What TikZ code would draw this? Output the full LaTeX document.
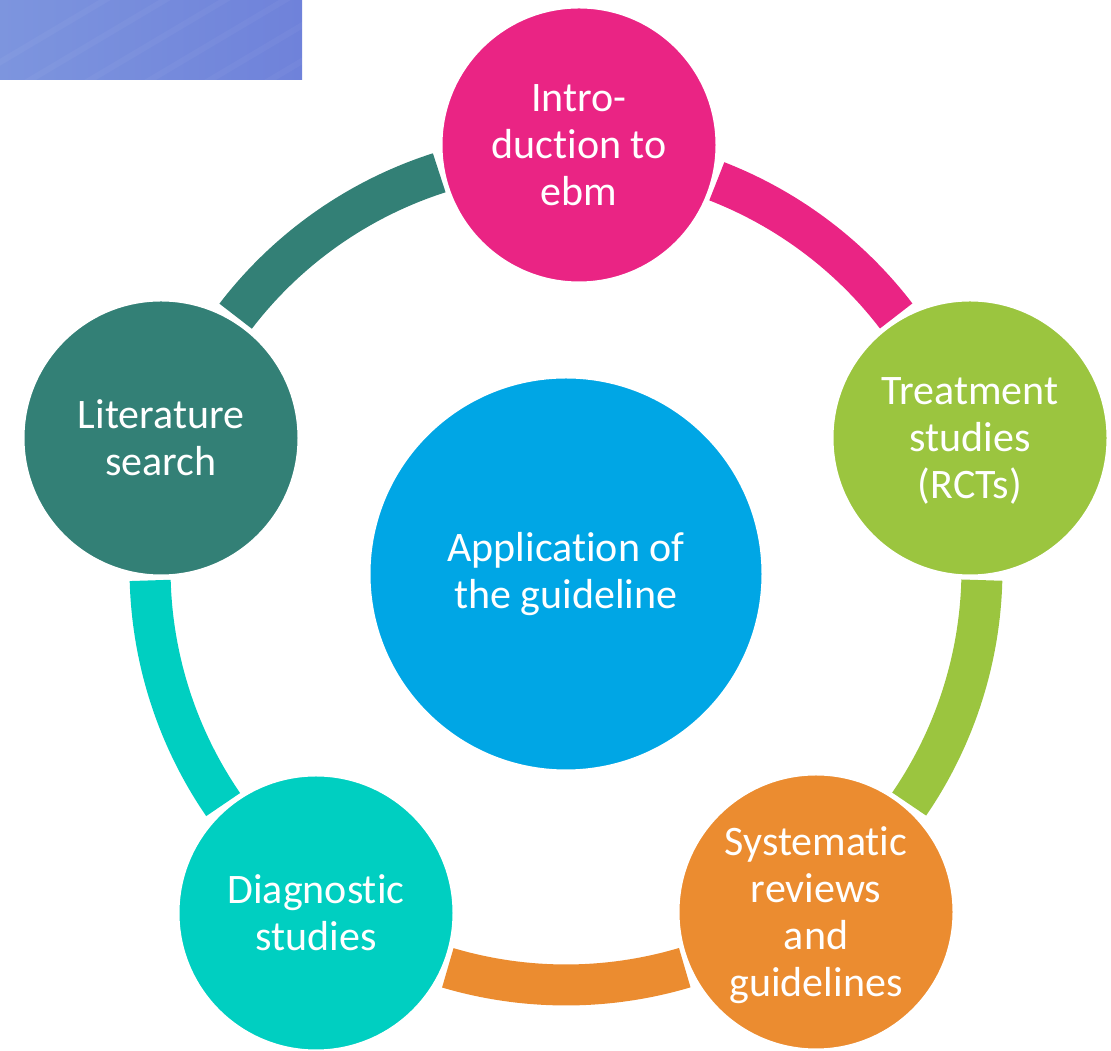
\documentclass[tikz,border=0pt]{standalone}
\usepackage{fontspec}
\setmainfont{Carlito}[RawFeature={-liga;-dlig;-clig}]
\usetikzlibrary{calc}
\definecolor{introc}{HTML}{EA2484}
\definecolor{treatc}{HTML}{9BC53F}
\definecolor{systc}{HTML}{EB8C30}
\definecolor{diagc}{HTML}{00CFC1}
\definecolor{litc}{HTML}{338076}
\definecolor{hubc}{HTML}{00A6E5}
\definecolor{bannerl}{HTML}{7D95DE}
\definecolor{bannerr}{HTML}{6F82DA}
% set a centred block of lines a little lower without changing its size
\newcommand{\droplines}[2]{\raisebox{-#1}[\height][\depth]{\begin{tabular}{@{}c@{}}#2\end{tabular}}}
\begin{document}
\begin{tikzpicture}[x=1pt,y=1pt,
  stage/.style={circle, minimum size=276pt, inner sep=0pt, draw=white, line width=3pt,
    text=white, align=center, font=\fontsize{42}{47}\selectfont},
  core/.style={stage, minimum size=394pt},
  band/.style={line width=41pt, line cap=butt}]
\useasboundingbox (0,0) rectangle (1111,1051);

% banner in the upper left corner
\shade[left color=bannerl, right color=bannerr] (0,971) rectangle (302,1051);
\begin{scope}
  \clip (0,971) rectangle (302,1051);
  \foreach \s in {-40,20,80,140,200,260}
    \draw[white, opacity=0.04, line width=6pt] (\s,965) -- (\s+160,1060);
\end{scope}

% ring centre
\coordinate (hub) at (566,482);

% stages
\node[core, fill=hubc] (guide) at (566,477) {Application of\\the guideline};
\path (579,906) coordinate (pintro)
      (970,613) coordinate (ptreat)
      (816,139) coordinate (psyst)
      (316,138) coordinate (pdiag)
      (161,613) coordinate (plit);

% ring segments, cut radially just clear of each circle
\foreach \a/\b/\c in {pintro/ptreat/introc, ptreat/psyst/treatc, psyst/pdiag/systc,
                      pdiag/plit/diagc, plit/pintro/litc}{
  \draw[band, \c] let \p1=($(\a)-(hub)$), \p2=($(\b)-(hub)$),
      \n1={atan2(\y1,\x1)-19.5}, \n3={atan2(\y2,\x2)+19.5},
      \n2={ifthenelse(\n3>\n1,\n3-360,\n3)} in
      ($(hub)+(\n1:416pt)$) arc[start angle=\n1, end angle=\n2, radius=416pt];
}

\node[stage, fill=introc] (intro) at (pintro) {Intro-\\duction to\\ebm};
\node[stage, fill=treatc] (treat) at (ptreat) {\droplines{4pt}{Treatment\\studies\\(RCTs)}};
\node[stage, fill=systc] (syst) at (psyst) {\droplines{5pt}{Systematic\\reviews\\and\\guidelines}};
\node[stage, fill=diagc] (diag) at (pdiag) {Diagnostic\\studies};
\node[stage, fill=litc] (lit) at (plit) {Literature\\search};
\end{tikzpicture}
\end{document}
